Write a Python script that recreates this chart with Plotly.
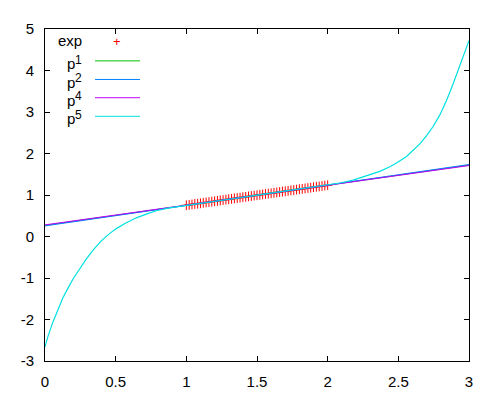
import plotly.graph_objects as go

exp_x = [1.00, 1.02, 1.04, 1.06, 1.08, 1.10, 1.12, 1.14, 1.16, 1.18,
         1.20, 1.22, 1.24, 1.26, 1.28, 1.30, 1.32, 1.34, 1.36, 1.38,
         1.40, 1.42, 1.44, 1.46, 1.48, 1.50, 1.52, 1.54, 1.56, 1.58,
         1.60, 1.62, 1.64, 1.66, 1.68, 1.70, 1.72, 1.74, 1.76, 1.78,
         1.80, 1.82, 1.84, 1.86, 1.88, 1.90, 1.92, 1.94, 1.96, 1.98, 2.00]
exp_y = [0.753, 0.762, 0.772, 0.784, 0.791, 0.800, 0.811, 0.822, 0.830, 0.840,
         0.849, 0.859, 0.870, 0.878, 0.889, 0.897, 0.908, 0.918, 0.927, 0.936,
         0.947, 0.955, 0.966, 0.975, 0.986, 0.994, 1.005, 1.013, 1.024, 1.033,
         1.042, 1.053, 1.061, 1.072, 1.082, 1.090, 1.101, 1.111, 1.119, 1.130,
         1.140, 1.148, 1.159, 1.169, 1.177, 1.188, 1.198, 1.206, 1.217, 1.227, 1.236]

line_x = [0, 0.5, 1, 1.5, 2, 2.5, 3]
p1_y = [0.27, 0.51, 0.753, 0.995, 1.236, 1.478, 1.72]
p2_y = [0.255, 0.50, 0.750, 0.995, 1.240, 1.485, 1.735]
p4_y = [0.28, 0.52, 0.757, 0.995, 1.233, 1.472, 1.71]

p5_x = [0, 0.02, 0.055, 0.09, 0.126, 0.162, 0.197, 0.244, 0.29, 0.34,
        0.40, 0.457, 0.504, 0.575, 0.646, 0.717, 0.787, 0.88, 1.0, 1.1,
        1.2, 1.3, 1.4, 1.5, 1.6, 1.7, 1.8, 1.9, 2.0, 2.086,
        2.18, 2.298, 2.369, 2.44, 2.487, 2.558, 2.605, 2.652, 2.70, 2.746,
        2.794, 2.84, 2.888, 2.935, 3.0]
p5_y = [-2.66, -2.42, -2.07, -1.76, -1.48, -1.25, -1.03, -0.79, -0.55, -0.33,
        -0.10, 0.07, 0.19, 0.33, 0.45, 0.54, 0.62, 0.69, 0.745, 0.80,
        0.85, 0.90, 0.945, 0.995, 1.045, 1.09, 1.14, 1.19, 1.24, 1.29,
        1.36, 1.48, 1.57, 1.68, 1.77, 1.93, 2.07, 2.23, 2.43, 2.65,
        2.93, 3.27, 3.68, 4.10, 4.72]

x_ticks = [0, 0.5, 1, 1.5, 2, 2.5, 3]
y_ticks = [-3, -2, -1, 0, 1, 2, 3, 4, 5]
key_powers = ["1", "2", "4", "5"]
colors = ["#ff0000", "#00c000", "#0080ff", "#c000ff", "#00e0e0"]

fig = go.Figure()
fig.add_trace(go.Scatter(x=exp_x, y=exp_y, mode="markers",
                         marker=dict(symbol="cross-thin", size=7,
                                     line=dict(color=colors[0], width=1))))
for ys, c in zip([p1_y, p2_y, p4_y], colors[1:4]):
    fig.add_trace(go.Scatter(x=line_x, y=ys, mode="lines",
                             line=dict(color=c, width=1)))
fig.add_trace(go.Scatter(x=p5_x, y=p5_y, mode="lines",
                         line=dict(color=colors[4], width=1.2)))

# gnuplot-style key: text on the left, sample on the right (paper coords)
def note(x, y, text, anchor, size=15, color="black"):
    return dict(x=x, y=y, xref="paper", yref="paper", text=text, showarrow=False,
                xanchor=anchor, yanchor="middle", font=dict(size=size, color=color))

annotations = [note(0.093, 0.966, "exp", "right"),
               note(0.170, 0.962, "+", "center", size=13, color=colors[0])]
shapes = []
row_y = [0.904, 0.848, 0.793, 0.737]
for pw, c, ry in zip(key_powers, colors[1:], row_y):
    annotations.append(note(0.0755, ry - 0.008, "p", "right"))
    annotations.append(note(0.066, ry + 0.004, pw, "left", size=12))
    shapes.append(dict(type="line", xref="paper", yref="paper",
                       x0=0.118, x1=0.224, y0=ry, y1=ry,
                       line=dict(color=c, width=1)))

axis_style = dict(showgrid=False, zeroline=False, showline=True, linecolor="black",
                  linewidth=1, mirror="allticks", ticks="inside", ticklen=5,
                  tickcolor="black", tickfont=dict(size=15, color="black"))

fig.update_layout(
    width=500, height=400,
    # the page body adds an 8px offset, margins account for it
    margin=dict(l=37, r=39, t=12, b=47),
    paper_bgcolor="white", plot_bgcolor="white",
    font=dict(family="Liberation Sans, Arial, sans-serif", size=15, color="black"),
    showlegend=False,
    annotations=annotations,
    shapes=shapes,
    xaxis=dict(range=[0, 3], tickvals=x_ticks, ticktext=[str(v) for v in x_ticks],
               ticklabelstandoff=7, **axis_style),
    yaxis=dict(range=[-3, 5], tickvals=y_ticks, ticktext=[str(v) for v in y_ticks],
               ticklabelstandoff=7, **axis_style),
)

fig.write_html("out.html")
